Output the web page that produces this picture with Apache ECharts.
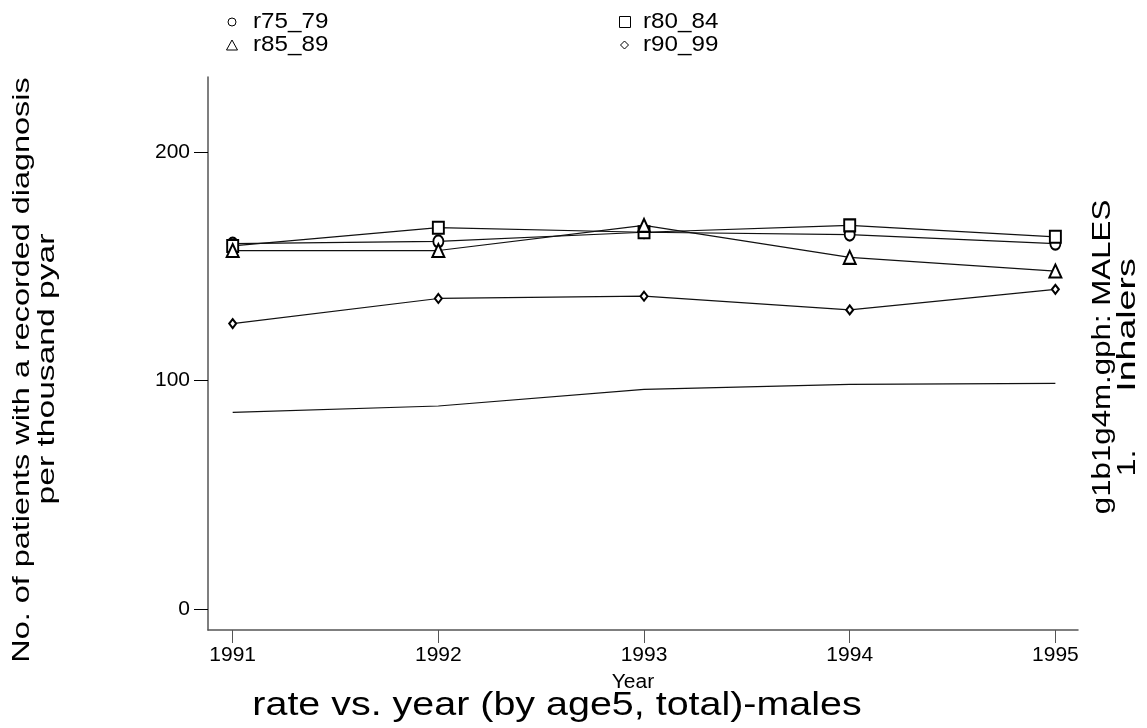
<!DOCTYPE html>
<html>
<head>
<meta charset="utf-8">
<script src="https://cdn.jsdelivr.net/npm/echarts@6/dist/echarts.min.js"></script>
<style>html,body{margin:0;padding:0;background:#fff;}#c{width:1147px;height:728px;}</style>
</head>
<body>
<div id="c"></div>
<script>
const years = [1991, 1992, 1993, 1994, 1995];
const r75_79 = [160, 161, 165, 164, 160];
const r80_84 = [159, 167, 165, 168, 163];
const r85_89 = [157, 157, 168, 154, 148];
const r90_99 = [125, 136, 137, 131, 140];
const total = [86.1, 88.9, 96.2, 98.4, 98.8];
const yTicks = [0, 100, 200];
const legendNames = ['r75_79', 'r80_84', 'r85_89', 'r90_99'];

const FONT = '"Liberation Sans", Arial, sans-serif';
const chart = echarts.init(document.getElementById('c'));
const pair = (vals) => years.map((y, i) => [y, vals[i]]);
const lineStyle = { color: '#111', width: 1.2 };
const mk = (name, vals, symbol, size) => ({
  name, type: 'line', data: pair(vals), symbol, symbolSize: size,
  showSymbol: symbol !== 'none',
  itemStyle: { color: '#000', borderColor: '#000', borderWidth: 1 },
  lineStyle, animation: false, z: 3
});
const txt = (text, x, y, size, opts) => Object.assign({
  type: 'text', x, y,
  style: { text, font: size + 'px ' + FONT, fill: '#000', textAlign: 'center', textVerticalAlign: 'middle' }
}, opts || {});
const legText = (text, x, y) => ({
  type: 'text', x, y, scaleX: 1.1,
  style: { text, font: '22px ' + FONT, fill: '#000', textAlign: 'left', textVerticalAlign: 'middle' }
});
const symStyle = { fill: '#fff', stroke: '#000', lineWidth: 1 };

chart.setOption({
  backgroundColor: '#fff',
  animation: false,
  grid: { left: 208, right: 69, top: 77, bottom: 98, containLabel: false },
  xAxis: {
    type: 'value', min: 1990.88, max: 1995.11,
    axisLine: { show: true, onZero: false, lineStyle: { color: '#555', width: 1.5 } },
    axisTick: { show: true, length: 13, customValues: years, lineStyle: { color: '#555', width: 1 } },
    axisLabel: { customValues: years, fontFamily: FONT, fontSize: 21, color: '#000', margin: 15,
      formatter: v => String(v) },
    splitLine: { show: false }
  },
  yAxis: {
    type: 'value', min: -9.2, max: 233,
    axisLine: { show: true, onZero: false, lineStyle: { color: '#555', width: 1.5 } },
    axisTick: { show: true, length: 14, customValues: yTicks, lineStyle: { color: '#000', width: 1 } },
    axisLabel: { customValues: yTicks, fontFamily: FONT, fontSize: 21, color: '#000', margin: 18 },
    splitLine: { show: false }
  },
  series: [
    mk('r75_79', r75_79, 'emptyCircle', [10, 12]),
    mk('r80_84', r80_84, 'emptyRect', [11, 12]),
    mk('r85_89', r85_89, 'emptyTriangle', [12, 13]),
    mk('r90_99', r90_99, 'emptyDiamond', [7, 9]),
    mk('total', total, 'none', 0)
  ],
  graphic: [
    // legend
    { type: 'circle', shape: { cx: 232, cy: 22, r: 4 }, style: symStyle },
    legText(legendNames[0], 253, 22),
    { type: 'rect', shape: { x: 619.5, y: 16.5, width: 11, height: 11 }, style: symStyle },
    legText(legendNames[1], 643, 22),
    { type: 'polygon', shape: { points: [[232, 40], [226.5, 50], [237.5, 50]] }, style: symStyle },
    legText(legendNames[2], 253, 45),
    { type: 'polygon', shape: { points: [[624.5, 41], [628.5, 45], [624.5, 49], [620.5, 45]] }, style: symStyle },
    legText(legendNames[3], 643, 45),
    // axis titles
    txt('No. of patients with a recorded diagnosis', 22, 370, 24, { rotation: Math.PI / 2, scaleX: 1.35 }),
    txt('per thousand pyar', 47, 369, 24, { rotation: Math.PI / 2, scaleX: 1.4 }),
    txt('Year', 633, 682, 20, { scaleX: 1.05 }),
    txt('g1b1g4m.gph: MALES', 1103, 357, 25, { rotation: Math.PI / 2, scaleX: 1.25 }),
    txt('Inhalers', 1128, 325, 25, { rotation: Math.PI / 2, scaleX: 1.5 }),
    txt('1.', 1128, 463, 25, { rotation: Math.PI / 2, scaleX: 1.3 }),
    txt('rate vs. year (by age5, total)-males', 557, 706, 34, { scaleX: 1.16 })
  ]
});
</script>
</body>
</html>
